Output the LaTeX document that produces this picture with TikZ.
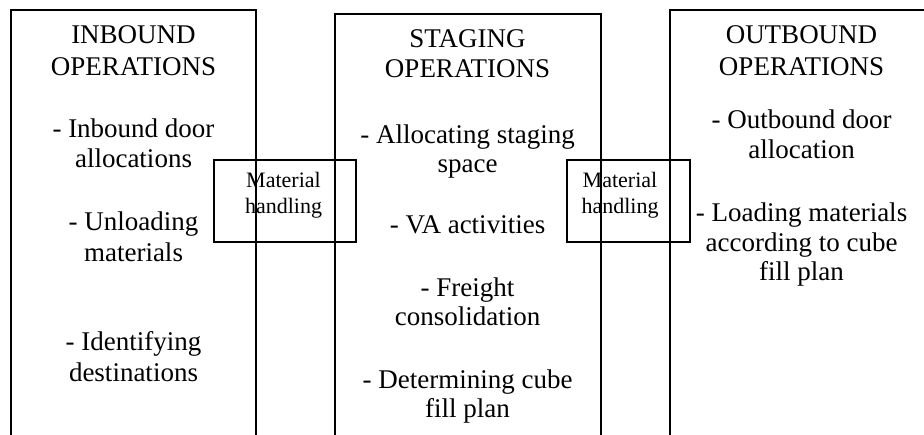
\documentclass[tikz,border=0pt]{standalone}
\usepackage{fontspec}
\setmainfont{Liberation Serif}
\begin{document}
\begin{tikzpicture}[x=1pt,y=-1pt,
  panel/.style={draw=black, line width=1.6pt, inner sep=0pt, outer sep=0pt},
  handoff/.style={draw=black, line width=1.6pt, inner sep=0pt, outer sep=0pt,
                  minimum width=#1, minimum height=82pt},
  bigtxt/.style={anchor=base, inner sep=0pt, font=\fontsize{27}{30}\selectfont},
  smalltxt/.style={anchor=base, inner sep=0pt, font=\fontsize{22}{24}\selectfont}]
  % page and clipping frame
  \useasboundingbox (0,0) rectangle (924,434);
  \fill[white] (0,0) rectangle (924,434);
  \clip (0,0) rectangle (924,434);

  % the three operation panels (open at the foot of the page)
  \node[panel, minimum width=245pt, minimum height=440pt] (inbound) at (133.5,230) {};
  \node[panel, minimum width=266pt, minimum height=436pt] (staging) at (468,232) {};
  \node[panel, minimum width=265pt, minimum height=440pt] (outbound) at (802.5,230) {};

  % material handling boxes straddling the panel borders
  \node[handoff=142pt] (mh1) at (285,201) {};
  \node[handoff=123pt] (mh2) at (628.5,201) {};
  \node[smalltxt] (mh1a) at (283.5,187) {Material};
  \node[smalltxt] (mh1b) at (283.5,213) {handling};
  \node[smalltxt] (mh2a) at (620,187) {Material};
  \node[smalltxt] (mh2b) at (620,213) {handling};

  % inbound column
  \node[bigtxt] (in1) at (133.5,43)  {INBOUND};
  \node[bigtxt] (in2) at (133.5,75)  {OPERATIONS};
  \node[bigtxt] (in3) at (133.5,137) {- Inbound door};
  \node[bigtxt] (in4) at (133.5,167) {allocations};
  \node[bigtxt] (in5) at (133.5,230) {- Unloading};
  \node[bigtxt] (in6) at (133.5,261) {materials};
  \node[bigtxt] (in7) at (133.5,350) {- Identifying};
  \node[bigtxt] (in8) at (133.5,381) {destinations};

  % staging column
  \node[bigtxt] (st1) at (467.5,47)  {STAGING};
  \node[bigtxt] (st2) at (467.5,77)  {OPERATIONS};
  \node[bigtxt] (st3) at (467.5,143) {- Allocating staging};
  \node[bigtxt] (st4) at (467.5,172) {space};
  \node[bigtxt] (st5) at (467.5,233) {- VA activities};
  \node[bigtxt] (st6) at (467.5,296) {- Freight};
  \node[bigtxt] (st7) at (467.5,325) {consolidation};
  \node[bigtxt] (st8) at (467.5,388) {- Determining cube};
  \node[bigtxt] (st9) at (467.5,417) {fill plan};

  % outbound column
  \node[bigtxt] (ou1) at (801.5,43)  {OUTBOUND};
  \node[bigtxt] (ou2) at (801.5,75)  {OPERATIONS};
  \node[bigtxt] (ou3) at (801.5,128) {- Outbound door};
  \node[bigtxt] (ou4) at (801.5,158) {allocation};
  \node[bigtxt] (ou5) at (801.5,221) {- Loading materials};
  \node[bigtxt] (ou6) at (801.5,251) {according to cube};
  \node[bigtxt] (ou7) at (801.5,280) {fill plan};
\end{tikzpicture}
\end{document}
